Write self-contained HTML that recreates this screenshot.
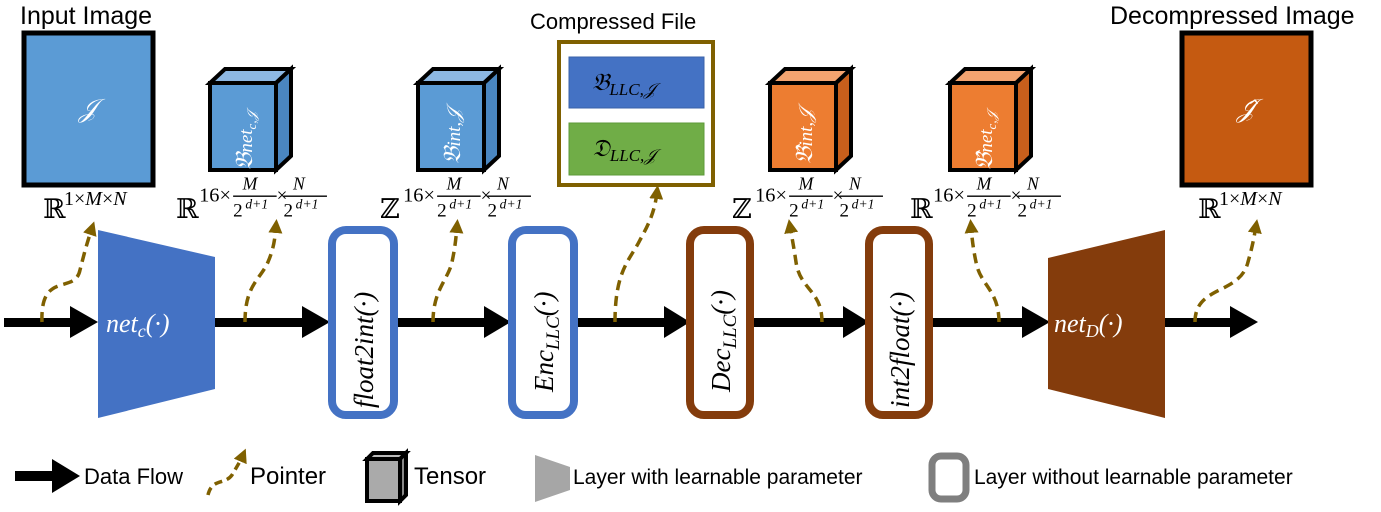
<!DOCTYPE html>
<html><head><meta charset="utf-8"><style>
body{margin:0;background:#fff}
.s{font-family:"Liberation Sans",sans-serif}
.m, .m text, .m tspan{font-family:"Liberation Serif","DejaVu Serif",serif}
</style></head><body>
<svg width="1381" height="507" viewBox="0 0 1381 507" xmlns="http://www.w3.org/2000/svg">
<defs>
<g id="lab" class="m">
  <text x="0" y="0" font-size="20">ℝ</text>
  <text x="17" y="-12" font-size="15">16×</text>
  <text x="49" y="-21" font-size="13" font-style="italic">M</text>
  <line x1="42" y1="-16" x2="74" y2="-16" stroke="#000" stroke-width="1"/>
  <text x="42" y="-1" font-size="14">2</text>
  <text x="51" y="-7" font-size="10" font-style="italic">d+1</text>
  <text x="74" y="-12" font-size="14">×</text>
  <text x="86" y="-21" font-size="13" font-style="italic">N</text>
  <line x1="79" y1="-16" x2="111" y2="-16" stroke="#000" stroke-width="1"/>
  <text x="79" y="-1" font-size="14">2</text>
  <text x="88" y="-7" font-size="10" font-style="italic">d+1</text>
</g>
<g id="labZ" class="m">
  <text x="0" y="0" font-size="20">ℤ</text>
  <text x="17" y="-12" font-size="15">16×</text>
  <text x="49" y="-21" font-size="13" font-style="italic">M</text>
  <line x1="42" y1="-16" x2="74" y2="-16" stroke="#000" stroke-width="1"/>
  <text x="42" y="-1" font-size="14">2</text>
  <text x="51" y="-7" font-size="10" font-style="italic">d+1</text>
  <text x="74" y="-12" font-size="14">×</text>
  <text x="86" y="-21" font-size="13" font-style="italic">N</text>
  <line x1="79" y1="-16" x2="111" y2="-16" stroke="#000" stroke-width="1"/>
  <text x="79" y="-1" font-size="14">2</text>
  <text x="88" y="-7" font-size="10" font-style="italic">d+1</text>
</g>
<marker id="ph" markerWidth="4" markerHeight="4" refX="2" refY="2" orient="auto" markerUnits="strokeWidth">
  <path d="M0,0 L4,2 L0,4 z" fill="#7f6000"/>
</marker>
</defs>

<g class="s">
<text x="20" y="24" font-size="25">Input Image</text>
<text x="530" y="29" font-size="22">Compressed File</text>
<text x="1110" y="24" font-size="25">Decompressed Image</text>
</g>

<rect x="24" y="33" width="129" height="152" fill="#5b9bd5" stroke="#000" stroke-width="5"/>
<g class="m">
<text x="88" y="117" font-size="26" fill="#fff" font-style="italic" text-anchor="middle">𝒥</text>
<text x="43" y="218" font-size="27">ℝ</text>
<text x="64" y="205" font-size="20">1×<tspan font-style="italic">M</tspan>×<tspan font-style="italic">N</tspan></text>
</g>

<g stroke="#000" stroke-width="4" stroke-linejoin="miter">
  <polygon points="210,83 225,69 291,69 276,83" fill="#8db8e3"/>
  <polygon points="276,83 291,69 291,156 276,170" fill="#4a86c0"/>
  <rect x="210" y="83" width="66" height="87" fill="#5b9bd5"/>
  <polygon points="418,83 433,69 499,69 484,83" fill="#8db8e3"/>
  <polygon points="484,83 499,69 499,156 484,170" fill="#4a86c0"/>
  <rect x="418" y="83" width="66" height="87" fill="#5b9bd5"/>
  <polygon points="770,83 785,69 851,69 836,83" fill="#f4a470"/>
  <polygon points="836,83 851,69 851,156 836,170" fill="#c85f1c"/>
  <rect x="770" y="83" width="66" height="87" fill="#ed7d31"/>
  <polygon points="950,83 965,69 1031,69 1016,83" fill="#f4a470"/>
  <polygon points="1016,83 1031,69 1031,156 1016,170" fill="#c85f1c"/>
  <rect x="950" y="83" width="66" height="87" fill="#ed7d31"/>
</g>
<g class="m" fill="#fff" font-size="24" font-style="italic">
  <text transform="translate(252,170) rotate(-90)">𝔅<tspan font-size="19">net</tspan><tspan font-size="13" dy="4">c,𝒥</tspan></text>
  <text transform="translate(460,164) rotate(-90)">𝔅<tspan font-size="19">int,𝒥</tspan></text>
  <text transform="translate(812,164) rotate(-90)">𝔅̂<tspan font-size="19">int,𝒥</tspan></text>
  <text transform="translate(992,170) rotate(-90)">𝔅̂<tspan font-size="19">net</tspan><tspan font-size="13" dy="4">c,𝒥</tspan></text>
</g>

<use href="#lab" transform="translate(176,218) scale(1.36)"/>
<use href="#labZ" transform="translate(380,218) scale(1.36)"/>
<use href="#labZ" transform="translate(732,218) scale(1.36)"/>
<use href="#lab" transform="translate(910,218) scale(1.36)"/>

<rect x="559" y="42" width="154" height="143" fill="#fff" stroke="#7f6000" stroke-width="4"/>
<rect x="569" y="57" width="135" height="51" fill="#4472c4" stroke="#3a62a8"/>
<rect x="569" y="123" width="135" height="52" fill="#70ad47" stroke="#5e9a3a"/>
<g class="m">
<text x="592" y="90" font-size="24" fill="#000" font-style="italic">𝔅<tspan font-size="17" dy="5">LLC,𝒥</tspan></text>
<text x="592" y="156" font-size="24" fill="#000" font-style="italic">𝔇<tspan font-size="17" dy="5">LLC,𝒥</tspan></text>
</g>

<rect x="1182" y="33" width="129" height="152" fill="#c55a11" stroke="#000" stroke-width="5"/>
<g class="m">
<text x="1246" y="117" font-size="26" fill="#fff" font-style="italic" text-anchor="middle">𝒥̂</text>
<text x="1198" y="218" font-size="27">ℝ</text>
<text x="1219" y="205" font-size="20">1×<tspan font-style="italic">M</tspan>×<tspan font-style="italic">N</tspan></text>
</g>

<g fill="#000">
  <rect x="4" y="318" width="70" height="9"/><polygon points="70,306 98,322 70,338"/>
  <rect x="215" y="318" width="90" height="9"/><polygon points="302,306 330,322 302,338"/>
  <rect x="397" y="318" width="90" height="9"/><polygon points="484,306 511,322 484,338"/>
  <rect x="577" y="318" width="90" height="9"/><polygon points="664,306 690,322 664,338"/>
  <rect x="752" y="318" width="95" height="9"/><polygon points="843,306 869,322 843,338"/>
  <rect x="932" y="318" width="95" height="9"/><polygon points="1022,306 1050,322 1022,338"/>
  <rect x="1165" y="318" width="68" height="9"/><polygon points="1230,306 1258,322 1230,338"/>
</g>

<polygon points="98,230 215,257 215,389 98,418" fill="#4472c4"/>
<polygon points="1048,258 1165,230 1165,418 1048,389" fill="#843c0c"/>
<g class="m" font-size="26" font-style="italic" fill="#fff">
<text x="106" y="332">net<tspan font-size="18" dy="5">c</tspan><tspan dy="-5">(·)</tspan></text>
<text x="1054" y="332">net<tspan font-size="18" dy="5">D</tspan><tspan dy="-5">(·)</tspan></text>
</g>

<g fill="#fff" stroke-width="8">
  <rect x="332" y="230" width="62" height="185" rx="14" stroke="#4472c4"/>
  <rect x="512" y="230" width="62" height="185" rx="14" stroke="#4472c4"/>
  <rect x="690" y="230" width="60" height="185" rx="14" stroke="#843c0c"/>
  <rect x="869" y="230" width="60" height="185" rx="14" stroke="#843c0c"/>
</g>
<g class="m" font-size="27" font-style="italic">
  <text transform="translate(373,408) rotate(-90)">float2int(·)</text>
  <text transform="translate(553,392) rotate(-90)">Enc<tspan font-size="19" dy="6">LLC</tspan><tspan dy="-6">(·)</tspan></text>
  <text transform="translate(730,392) rotate(-90)">Dec<tspan font-size="19" dy="6">LLC</tspan><tspan dy="-6">(·)</tspan></text>
  <text transform="translate(909,408) rotate(-90)">int2float(·)</text>
</g>

<g fill="none" stroke="#7f6000" stroke-width="3.5" stroke-dasharray="10,6" marker-end="url(#ph)">
  <path d="M42,322 C40,270 75,295 80,270 C85,250 88,240 92,228"/>
  <path d="M245,322 C245,285 260,280 268,262 C274,248 275,238 276,226"/>
  <path d="M433,322 C433,290 448,280 452,262 C455,248 456,238 457,226"/>
  <path d="M615,322 C615,270 630,260 640,240 C650,222 655,210 657,192"/>
  <path d="M822,322 C822,290 800,290 796,262 C794,248 792,238 790,226"/>
  <path d="M999,322 C999,290 980,285 976,262 C973,248 972,238 971,226"/>
  <path d="M1195,322 C1195,285 1240,295 1248,262 C1252,248 1254,238 1256,226"/>
</g>

<rect x="15" y="471" width="40" height="10" fill="#000"/>
<polygon points="52,459 80,476 52,493" fill="#000"/>
<path d="M208,495 C212,478 225,485 232,475 C236,468 240,462 243,455" fill="none" stroke="#7f6000" stroke-width="3.5" stroke-dasharray="8,5" marker-end="url(#ph)"/>
<g stroke="#000" stroke-width="4">
  <polygon points="367,459 373,453 406,453 400,459" fill="#bbb"/>
  <polygon points="400,459 406,453 406,495 400,501" fill="#888"/>
  <rect x="367" y="459" width="33" height="42" fill="#aaa"/>
</g>
<polygon points="535,455 570,467 570,490 535,502" fill="#a6a6a6"/>
<rect x="932" y="456" width="34" height="43" rx="9" fill="#fff" stroke="#7f7f7f" stroke-width="7"/>
<g class="s">
<text x="84" y="484" font-size="22">Data Flow</text>
<text x="250" y="484" font-size="24">Pointer</text>
<text x="414" y="484" font-size="24">Tensor</text>
<text x="573" y="484" font-size="21">Layer with learnable parameter</text>
<text x="974" y="484" font-size="21">Layer without learnable parameter</text>
</g>
</svg>
</body></html>
